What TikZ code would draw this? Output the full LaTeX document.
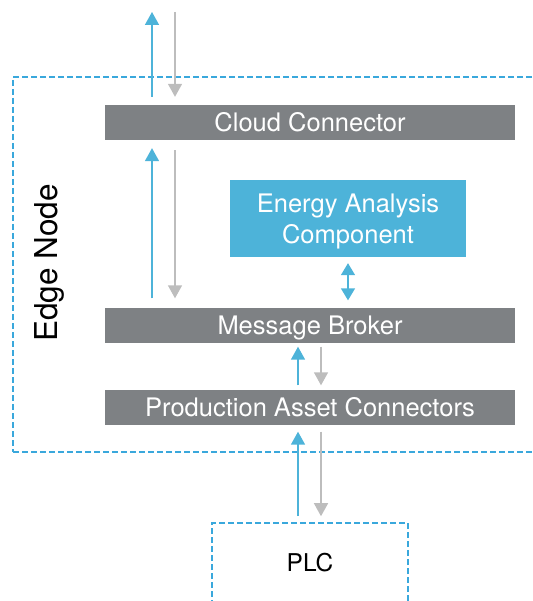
\documentclass[tikz,border=0pt]{standalone}
\usepackage{fontspec}
\setmainfont{TeX Gyre Heros}
\usetikzlibrary{arrows.meta}
\definecolor{boxgray}{HTML}{7E8184}
\definecolor{eblue}{HTML}{4DB3D9}
\definecolor{dblue}{HTML}{3AA8DC}
\definecolor{agray}{HTML}{BDBDBD}
\begin{document}
\begin{tikzpicture}[x=1pt,y=-1pt,
  barbox/.style={fill=boxgray, text=white, minimum width=410pt, minimum height=35pt, inner sep=0pt, text height=18.4pt, text depth=0pt, font=\fontsize{25.5}{30}\selectfont},
  dashbox/.style={draw=dblue, line width=1.6pt, dash pattern=on 6pt off 3pt},
  uparrow/.style={draw=eblue, line width=1.5pt, -{Triangle[width=14pt,length=13pt]}},
  downarrow/.style={draw=agray, line width=1.5pt, -{Triangle[width=14pt,length=13pt]}},
  bothway/.style={draw=eblue, line width=1.5pt, {Triangle[width=14pt,length=12pt]}-{Triangle[width=14pt,length=12pt]}}
]
\useasboundingbox (0,0) rectangle (532,601);
\clip (0,0) rectangle (532,601);
% edge node frame
\node[dashbox, minimum width=540pt, minimum height=375pt, inner sep=0pt] (edge) at (283,264.5) {};
\node[rotate=90, font=\fontsize{31.5}{36}\selectfont] (edgelabel) at (49,263) {Edge Node};
% boxes
\node[barbox] (cloud) at (310,122.5) {Cloud Connector};
\node[fill=eblue, text=white, minimum width=236pt, minimum height=77pt, inner sep=0pt, align=center, text depth=0pt, font=\fontsize{25.5}{31}\selectfont] (eac) at (348,218.5) {Energy Analysis\\Component};
\node[barbox] (broker) at (310,325) {Message Broker};
\node[barbox] (pac) at (310,407) {Production Asset Connectors};
\node[dashbox, minimum width=196pt, minimum height=80pt, inner sep=0pt, font=\fontsize{24.5}{28}\selectfont] (plc) at (310,563) {PLC};
% free ends at top
\coordinate (cu) at (152,12);
\coordinate (cd) at (175,12);
% arrows above cloud connector
\draw[uparrow, shorten <=8pt] (cloud.north -| cu) -- (cu);
\draw[downarrow, shorten >=8pt] (cd) -- (cloud.north -| cd);
% cloud <-> broker
\draw[uparrow, shorten <=9pt, shorten >=8pt] (broker.north -| cu) -- (cloud.south -| cu);
\draw[downarrow, shorten <=10pt, shorten >=9pt] (cloud.south -| cd) -- (broker.north -| cd);
% eac <-> broker
\draw[bothway, shorten <=6pt, shorten >=7pt] (eac.south) -- (broker.north -| eac.south);
% broker <-> pac
\coordinate (pu) at (298,0);
\coordinate (pd) at (321,0);
\draw[uparrow, shorten <=4pt, shorten >=4pt] (pac.north -| pu) -- (broker.south -| pu);
\draw[downarrow, shorten <=4pt, shorten >=4pt] (broker.south -| pd) -- (pac.north -| pd);
% pac <-> plc
\draw[uparrow, shorten <=6pt, shorten >=7pt] (plc.north -| pu) -- (pac.south -| pu);
\draw[downarrow, shorten <=7pt, shorten >=6pt] (pac.south -| pd) -- (plc.north -| pd);
\end{tikzpicture}
\end{document}
